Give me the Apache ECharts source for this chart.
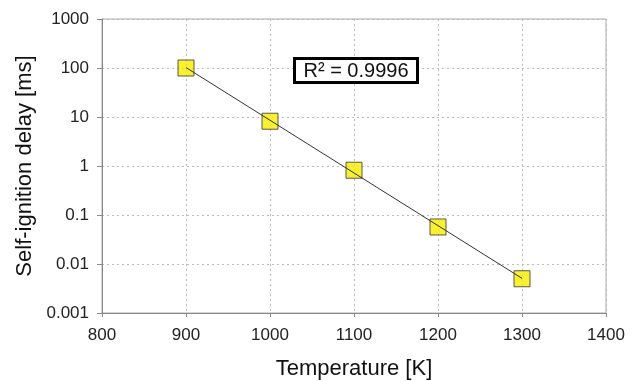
<!DOCTYPE html>
<html>
<head>
<meta charset="utf-8">
<script src="https://cdn.jsdelivr.net/npm/echarts@6/dist/echarts.min.js"></script>
<style>html,body{margin:0;padding:0;background:#fff;}#c{width:640px;height:381px;}</style>
</head>
<body>
<div id="c"></div>
<script>
const temperatures = [900, 1000, 1100, 1200, 1300];
const delays = [100, 8.2, 0.82, 0.057, 0.005];
const trendX = [900, 1300];
const trendY = [102, 0.0051];
const yTickLabels = ['0.001', '0.01', '0.1', '1', '10', '100', '1000'];
const rSquaredText = 'R² = 0.9996';

const chart = echarts.init(document.getElementById('c'));
const FONT = '"Liberation Sans", Arial, sans-serif';
chart.setOption({
  animation: false,
  backgroundColor: '#fff',
  grid: { left: 102, right: 34, top: 19, bottom: 68, show: true, borderColor: '#aaa', borderWidth: 1,
    outerBoundsMode: 'none', containLabel: false },
  xAxis: {
    type: 'value', min: 800, max: 1400, interval: 100,
    name: 'Temperature [K]', nameLocation: 'middle', nameGap: 45,
    nameTextStyle: { fontFamily: FONT, fontSize: 22, color: '#111' },
    axisLine: { lineStyle: { color: '#888', width: 1 } },
    axisTick: { show: true, length: 4, lineStyle: { color: '#888' } },
    axisLabel: { fontFamily: FONT, fontSize: 17, color: '#222', margin: 14,
      formatter: v => String(v) },
    splitLine: { show: true, lineStyle: { color: '#bbb', type: [2, 3], width: 1 } }
  },
  yAxis: {
    type: 'log', logBase: 10, min: 0.001, max: 1000,
    name: 'Self-ignition delay [ms]', nameLocation: 'middle', nameGap: 66,
    nameTextStyle: { fontFamily: FONT, fontSize: 22, color: '#111' },
    axisLine: { show: true, lineStyle: { color: '#888', width: 1 } },
    axisTick: { show: true, length: 5, lineStyle: { color: '#888' } },
    axisLabel: { fontFamily: FONT, fontSize: 17, color: '#222', margin: 13,
      formatter: (v, i) => yTickLabels[i] },
    splitLine: { show: true, lineStyle: { color: '#bbb', type: [2, 3], width: 1 } }
  },
  series: [
    {
      type: 'scatter',
      data: temperatures.map((t, i) => [t, delays[i]]),
      symbol: 'rect', symbolSize: 16,
      itemStyle: { color: '#f8ec00', borderColor: '#333', borderWidth: 1 },
      z: 2
    },
    {
      type: 'line',
      data: trendX.map((t, i) => [t, trendY[i]]),
      showSymbol: false, symbol: 'none',
      lineStyle: { color: '#333', width: 1 },
      z: 3
    }
  ],
  graphic: [
    {
      type: 'group', left: 293, top: 57, z: 100,
      children: [
        { type: 'rect', z: 100, shape: { x: 0, y: 0, width: 123, height: 24 },
          style: { fill: '#fff', stroke: '#000', lineWidth: 3 } },
        { type: 'text', z: 101, x: 61.5, y: 12.5,
          style: { text: rSquaredText, fontFamily: FONT, fontSize: 20, fill: '#111',
            align: 'center', verticalAlign: 'middle' } }
      ]
    }
  ]
});
</script>
</body>
</html>
